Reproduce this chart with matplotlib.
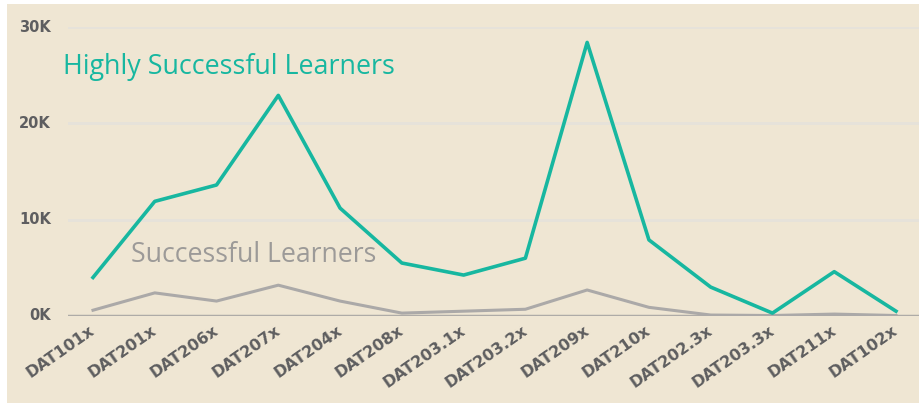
import numpy as np
import matplotlib
matplotlib.use("Agg")
import matplotlib.pyplot as plt
from matplotlib.transforms import ScaledTranslation

# course codes along the x axis
courses = ["DAT101x", "DAT201x", "DAT206x", "DAT207x", "DAT204x", "DAT208x",
           "DAT203.1x", "DAT203.2x", "DAT209x", "DAT210x", "DAT202.3x",
           "DAT203.3x", "DAT211x", "DAT102x"]

highly_successful = [4000, 11900, 13600, 22900, 11200, 5500, 4250, 6000,
                     28400, 7900, 3000, 300, 4600, 500]
successful = [600, 2400, 1550, 3200, 1550, 300, 500, 700,
              2700, 900, 100, 50, 200, 50]

yticks = [0, 10000, 20000, 30000]
ytick_labels = ["0K", "10K", "20K", "30K"]

bg = "#EFE6D3"
teal = "#17B7A0"
grey_line = "#ABA9A8"
label_col = "#5E5E60"

fig = plt.figure(figsize=(9.2, 4.03), dpi=100)
fig.patch.set_facecolor("white")

# beige panel behind everything
bgax = fig.add_axes([7/920, 0, 1 - 7/920, 399/403], zorder=-1)
bgax.set_axis_off()
bgax.add_patch(plt.Rectangle((0, 0), 1, 1, facecolor=bg, edgecolor="none",
                             transform=bgax.transAxes))

ax = fig.add_axes([68/920, (403-316)/403, 852/920, (316-27)/403])
ax.set_facecolor("none")

x = np.arange(len(courses))
ax.plot(x, successful, color=grey_line, lw=2.2, zorder=3)
ax.plot(x, highly_successful, color=teal, lw=2.6, zorder=4)

ax.set_xlim(-25/61.77, 13 + 24/61.77)
ax.set_ylim(0, 30000)

for v in yticks[1:]:
    ax.axhline(v, color="#E6E2DA", lw=2, zorder=1)
ax.axhline(0, color="#AEABA7", lw=2.5, zorder=2)

for s in ax.spines.values():
    s.set_visible(False)

ax.set_yticks([])
for v, lab in zip(yticks, ytick_labels):
    ax.text(51/920, (403 - 316 + v / 30000 * 289) / 403, lab,
            transform=fig.transFigure, ha="right", va="center",
            fontsize=10.5, color=label_col, fontweight="bold")

ax.set_xticks(x)
ax.set_xticklabels(courses, rotation=35, ha="right", rotation_mode="anchor",
                   fontsize=11.5, color=label_col, fontweight="bold")
ax.tick_params(axis="x", length=0, pad=5)
shift = ScaledTranslation(-4/100, 0, fig.dpi_scale_trans)
for lab in ax.get_xticklabels():
    lab.set_transform(lab.get_transform() + shift)

fig.text(63/920, 1 - 74/403, "Highly Successful Learners",
         color=teal, fontsize=19.4, family="Open Sans", va="baseline")
fig.text(131/920, 1 - 262/403, "Successful Learners",
         color="#9C9A98", fontsize=19.2, family="Open Sans", va="baseline")

fig.savefig("out.png", dpi=100, facecolor=fig.get_facecolor())
